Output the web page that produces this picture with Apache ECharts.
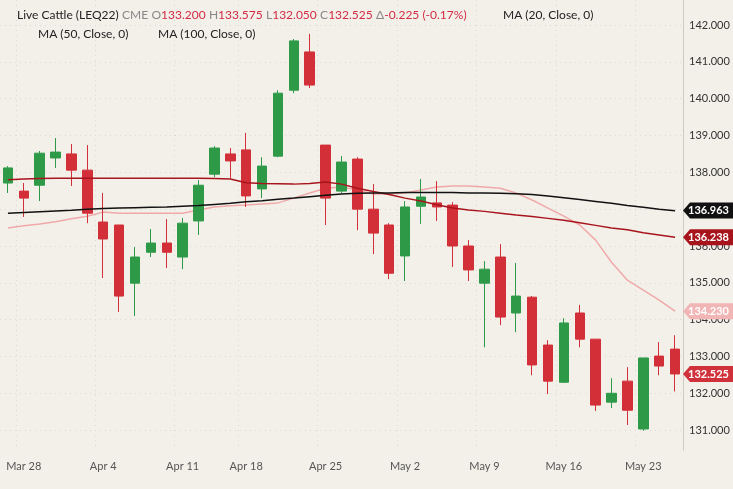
<!DOCTYPE html>
<html><head><meta charset="utf-8">
<script src="https://cdn.jsdelivr.net/npm/echarts@6/dist/echarts.min.js"></script>
<style>html,body{margin:0;padding:0;background:#f3f0ea}#c{width:733px;height:489px}</style>
</head><body><div id="c"></div>
<script>
const dates=['Mar 25','Mar 28','Mar 29','Mar 30','Mar 31','Apr 1','Apr 4','Apr 5','Apr 6','Apr 7','Apr 8','Apr 11','Apr 12','Apr 13','Apr 14','Apr 18','Apr 19','Apr 20','Apr 21','Apr 22','Apr 25','Apr 26','Apr 27','Apr 28','Apr 29','May 2','May 3','May 4','May 5','May 6','May 9','May 10','May 11','May 12','May 13','May 16','May 17','May 18','May 19','May 20','May 23','May 24','May 25'];
const tickLabels=['Mar 28','Apr 4','Apr 11','Apr 18','Apr 25','May 2','May 9','May 16','May 23'];
const opens=[137.71,137.49,137.65,138.39,138.50,138.06,136.65,136.57,134.99,135.83,136.08,135.70,136.68,137.95,138.50,138.61,137.55,138.44,140.23,141.27,138.74,137.49,138.36,137.00,136.57,135.73,137.08,137.17,137.11,136.00,134.99,135.70,134.18,134.61,133.31,132.30,134.18,133.47,131.76,132.33,131.03,133.01,133.20];
const closes=[138.12,137.30,138.52,138.55,138.06,136.89,136.19,134.64,135.70,136.08,135.83,136.62,137.65,138.66,138.31,137.36,138.17,140.15,141.57,140.37,137.30,138.28,137.00,136.35,135.26,137.06,137.33,137.06,136.00,135.35,135.37,134.07,134.64,132.77,132.33,133.91,133.47,131.68,132.00,131.54,132.96,132.74,132.525];
const lows=[137.44,136.79,137.22,138.12,137.63,136.62,135.13,134.21,134.10,135.70,135.40,135.37,136.30,137.87,137.84,137.06,137.30,138.41,140.15,140.29,136.57,137.44,136.43,135.78,135.10,135.05,136.60,136.68,135.43,135.05,133.25,133.85,133.66,132.49,131.98,132.28,133.25,131.52,131.60,131.14,130.98,132.49,132.05];
const highs=[138.17,137.71,138.58,138.93,138.77,138.74,137.44,136.57,135.97,136.46,136.73,136.76,137.79,138.71,138.66,139.07,138.41,140.23,141.62,141.76,138.74,138.44,138.41,137.68,136.62,137.22,137.82,137.76,137.19,136.16,135.59,136.05,135.54,134.64,133.44,134.04,134.40,133.47,132.41,132.71,132.96,133.39,133.575];
const ma20=[136.49,136.55,136.60,136.66,136.74,136.81,136.92,136.89,136.89,136.89,136.89,136.89,136.98,137.06,137.09,137.11,137.14,137.17,137.30,137.44,137.57,137.60,137.52,137.41,137.41,137.44,137.52,137.60,137.63,137.63,137.60,137.57,137.44,137.25,137.03,136.81,136.57,136.16,135.56,135.07,134.80,134.53,134.23];
const ma50=[137.80,137.82,137.83,137.84,137.84,137.84,137.84,137.84,137.84,137.84,137.84,137.84,137.84,137.83,137.82,137.72,137.70,137.69,137.68,137.70,137.74,137.68,137.57,137.48,137.40,137.30,137.22,137.12,137.03,136.98,136.94,136.89,136.84,136.80,136.75,136.70,136.63,136.56,136.49,136.44,136.36,136.30,136.24];
const ma100=[136.89,136.91,136.93,136.95,136.97,137.00,137.02,137.03,137.04,137.05,137.06,137.08,137.10,137.13,137.16,137.20,137.23,137.27,137.30,137.34,137.38,137.41,137.43,137.44,137.44,137.45,137.45,137.45,137.45,137.44,137.44,137.43,137.42,137.40,137.36,137.31,137.26,137.21,137.16,137.10,137.05,137.00,136.96];
const lastVals=[{v:136.963,bg:'#111111',fg:'#fff'},{v:136.238,bg:'#a8141c',fg:'#fff'},{v:134.230,bg:'#f2b5b5',fg:'#fff'},{v:132.525,bg:'#d0313a',fg:'#fff'}];

const UP='#2e9a48',DN='#d32f38';
const candleData=dates.map((d,i)=>[opens[i],closes[i],lows[i],highs[i]]);
const chart=echarts.init(document.getElementById('c'));
const grid={left:0,right:50,top:0,bottom:39};
chart.setOption({
  backgroundColor:'#f3f0ea',animation:false,
  grid:grid,
  xAxis:{type:'category',data:dates,boundaryGap:true,
    axisLine:{show:false},axisTick:{show:false},
    axisLabel:{color:'#555',fontFamily:'Lato',fontSize:11,margin:11,
      interval:(i,v)=>tickLabels.includes(v),formatter:v=>v},
    splitLine:{show:true,interval:(i,v)=>tickLabels.includes(v),lineStyle:{color:'#dcd8d2',type:[1,4]}}},
  yAxis:{type:'value',position:'right',min:130.46,max:142.68,splitNumber:12,
    axisLine:{show:true,lineStyle:{color:'#cfcbc5'}},axisTick:{show:false},
    axisLabel:{color:'#333',fontFamily:'Lato',fontSize:11,margin:6,showMinLabel:false,showMaxLabel:false,
      formatter:v=>Number.isInteger(Math.round(v*1000)/1000)?v.toFixed(3):''},
    splitLine:{show:true,showMinLine:false,showMaxLine:false,lineStyle:{color:'#dcd8d2',type:[1,4]}}},
  series:[
    {type:'candlestick',data:candleData,barWidth:10,
      itemStyle:{color:UP,color0:DN,borderColor:UP,borderColor0:DN,borderWidth:1}},
    {type:'line',data:ma20,symbol:'none',lineStyle:{color:'#f0a9a9',width:1.5},z:1},
    {type:'line',data:ma50,symbol:'none',lineStyle:{color:'#a8141c',width:1.5},z:3},
    {type:'line',data:ma100,symbol:'none',lineStyle:{color:'#111',width:1.5},z:3}
  ]
});
const g=[];
g.push({type:'text',left:17,top:9,style:{rich:{a:{fill:'#222',fontSize:12,fontFamily:'Lato'},b:{fill:'#888',fontSize:12,fontFamily:'Lato'},r:{fill:'#d12b45',fontSize:12,fontFamily:'Lato'}},
  text:'{a|Live Cattle (LEQ22)} {b|CME} {b|O}{r|133.200} {b|H}{r|133.575} {b|L}{r|132.050} {b|C}{r|132.525} {b|Δ}{r|-0.225 (-0.17%)}'}});
g.push({type:'text',left:503,top:9,style:{text:'MA (20, Close, 0)',fill:'#222',fontSize:12,fontFamily:'Lato'}});
g.push({type:'text',left:38,top:28,style:{text:'MA (50, Close, 0)',fill:'#222',fontSize:12,fontFamily:'Lato'}});
g.push({type:'text',left:158,top:28,style:{text:'MA (100, Close, 0)',fill:'#222',fontSize:12,fontFamily:'Lato'}});
lastVals.forEach(o=>{
  const y=chart.convertToPixel({yAxisIndex:0},o.v);
  g.push({type:'polygon',shape:{points:[[683,y],[690,y-8],[733,y-8],[733,y+8],[690,y+8]]},style:{fill:o.bg},z:10});
  g.push({type:'text',x:688,y:y,style:{text:o.v.toFixed(3),fill:o.fg,fontSize:11,fontWeight:'bold',fontFamily:'Lato',verticalAlign:'middle'},z:11});
});
chart.setOption({graphic:g});
</script></body></html>
